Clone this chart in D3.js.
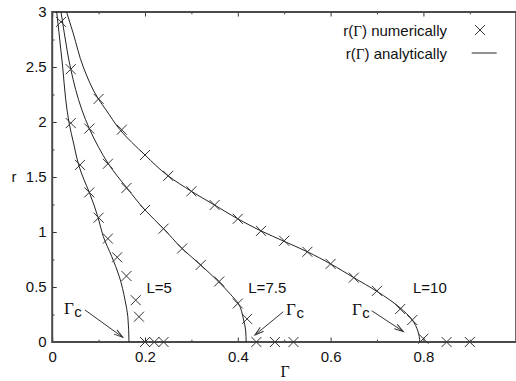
<!DOCTYPE html>
<html>
<head>
<meta charset="utf-8">
<script src="https://cdnjs.cloudflare.com/ajax/libs/d3/7.8.5/d3.min.js"></script>
<style>
  body { margin: 0; background: #fff; }
  svg text { font-family: "Liberation Sans", Arial, Helvetica, sans-serif; font-size: 15px; fill: #111; }
  svg .sym { font-family: "Liberation Serif", "DejaVu Serif", serif; }
</style>
</head>
<body>
<div id="chart"></div>
<script>
// numerical results, [Gamma, r]
var num5 = [[0.04, 1.99], [0.06, 1.61], [0.08, 1.36], [0.10, 1.13], [0.12, 0.94], [0.14, 0.77],
            [0.16, 0.60], [0.18, 0.38], [0.187, 0.23], [0.20, 0], [0.22, 0], [0.24, 0]];
var num75 = [[0.019, 2.91], [0.04, 2.48], [0.08, 1.94], [0.12, 1.62], [0.16, 1.40], [0.20, 1.20],
             [0.24, 1.03], [0.28, 0.85], [0.32, 0.70], [0.36, 0.55], [0.40, 0.35], [0.42, 0.21],
             [0.44, 0], [0.48, 0], [0.52, 0]];
var num10 = [[0.10, 2.21], [0.15, 1.93], [0.20, 1.70], [0.25, 1.51], [0.30, 1.37], [0.35, 1.245],
             [0.40, 1.12], [0.45, 1.01], [0.50, 0.92], [0.55, 0.82], [0.60, 0.71], [0.65, 0.585],
             [0.70, 0.465], [0.75, 0.30], [0.776, 0.20], [0.80, 0.03], [0.85, 0], [0.90, 0]];

// analytic curves, [Gamma, r]
var ana5 = [[0.0097, 3.0], [0.0147, 2.81], [0.0226, 2.5], [0.029, 2.21], [0.036, 2.0], [0.047, 1.79],
            [0.057, 1.61], [0.068, 1.48], [0.08, 1.36], [0.099, 1.13], [0.110, 0.96], [0.128, 0.78],
            [0.145, 0.59], [0.157, 0.38], [0.163, 0.23], [0.1655, 0]];
var ana75 = [[0.019, 3.0], [0.026, 2.81], [0.040, 2.48], [0.064, 2.11], [0.08, 1.94], [0.10, 1.77],
             [0.121, 1.62], [0.161, 1.40], [0.20, 1.20], [0.24, 1.03], [0.28, 0.85], [0.32, 0.70],
             [0.358, 0.55], [0.385, 0.43], [0.401, 0.35], [0.412, 0.21], [0.417, 0.1], [0.418, 0]];
var ana10 = [[0.031, 3.0], [0.045, 2.81], [0.067, 2.5], [0.0995, 2.21], [0.116, 2.11], [0.146, 1.93],
             [0.20, 1.70], [0.25, 1.51], [0.30, 1.37], [0.35, 1.245], [0.40, 1.12], [0.45, 1.01],
             [0.50, 0.915], [0.55, 0.82], [0.60, 0.71], [0.65, 0.585], [0.70, 0.46], [0.75, 0.31],
             [0.776, 0.20], [0.788, 0.10], [0.7925, 0]];

var xTicks = [0, 0.2, 0.4, 0.6, 0.8];
var xMinor = [0.1, 0.3, 0.5, 0.7, 0.9];
var yTicks = [0, 0.5, 1, 1.5, 2, 2.5, 3];
var yMinor = [0.25, 0.75, 1.25, 1.75, 2.25, 2.75];

var curveLabels = ["L=5", "L=7.5", "L=10"];
var legendLabels = ["numerically", "analytically"];

// annotation anchors in data units: L labels, Gamma_c labels and arrows
var lLabelAt = [[0.203, 0.445], [0.4226, 0.445], [0.7776, 0.445]];
var gcLabelAt = [[0.0254, 0.255], [0.504, 0.245], [0.646, 0.245]];
var gcArrows = [[[0.0707, 0.291], [0.152, 0.043]],
                [[0.498, 0.275], [0.437, 0.064]],
                [[0.6886, 0.2845], [0.7567, 0.0955]]];

var width = 516, height = 381,
    pLeft = 52.2, pRight = 516.2, pTop = 12, pBottom = 342;

var x = d3.scaleLinear().domain([0, 1]).range([pLeft, pRight]);
var y = d3.scaleLinear().domain([0, 3]).range([pBottom, pTop]);

var svg = d3.select("#chart").append("svg")
    .attr("width", width)
    .attr("height", height);

var defs = svg.append("defs");
defs.append("clipPath").attr("id", "plotclip")
  .append("rect").attr("x", pLeft).attr("y", pTop)
    .attr("width", pRight - pLeft).attr("height", pBottom - pTop);

// arrow head, open V like gnuplot
defs.append("marker")
    .attr("id", "head")
    .attr("viewBox", "-10 -5 12 10")
    .attr("refX", 0).attr("refY", 0)
    .attr("markerWidth", 12).attr("markerHeight", 10)
    .attr("markerUnits", "userSpaceOnUse")
    .attr("orient", "auto")
  .append("path")
    .attr("d", "M-9,-2.6L0,0L-9,2.6")
    .attr("fill", "none")
    .attr("stroke", "#333")
    .attr("stroke-width", 1);

var fmt = function(d) { return String(d); };

// major + minor ticks on all sides, pointing inward
function addAxis(axis, tx, ty, labels) {
    var g = svg.append("g").attr("transform", "translate(" + tx + "," + ty + ")").call(axis);
    g.select(".domain").remove();
    g.selectAll(".tick line").attr("stroke", "#333");
    if (!labels) g.selectAll(".tick text").remove();
    return g;
}

addAxis(d3.axisBottom(x).tickValues(xTicks).tickSize(-4.5).tickPadding(9).tickFormat(fmt), 0, pBottom, true);
addAxis(d3.axisBottom(x).tickValues(xMinor).tickSize(-2.3), 0, pBottom, false);
addAxis(d3.axisTop(x).tickValues(xTicks.concat([1])).tickSize(-4.5), 0, pTop, false);
addAxis(d3.axisTop(x).tickValues(xMinor).tickSize(-2.3), 0, pTop, false);
addAxis(d3.axisLeft(y).tickValues(yTicks).tickSize(-4.5).tickPadding(5.5).tickFormat(fmt), pLeft, 0, true);
addAxis(d3.axisLeft(y).tickValues(yMinor).tickSize(-2.3), pLeft, 0, false);

svg.selectAll(".tick text").style("font-size", "15px").attr("fill", "#111");

// frame
svg.append("rect")
    .attr("x", pLeft).attr("y", pTop)
    .attr("width", pRight - pLeft).attr("height", pBottom - pTop)
    .attr("fill", "none")
    .attr("stroke", "#4a4a4a")
    .attr("stroke-width", 2);

var plot = svg.append("g").attr("clip-path", "url(#plotclip)");

var line = d3.line()
    .x(function(d) { return x(d[0]); })
    .y(function(d) { return y(d[1]); })
    .curve(d3.curveMonotoneY);

[ana5, ana75, ana10].forEach(function(s) {
    plot.append("path")
        .attr("d", line(s))
        .attr("fill", "none")
        .attr("stroke", "#222")
        .attr("stroke-width", 1);
});

var crossPath = "M-5,-5L5,5M-5,5L5,-5";

svg.append("g").selectAll("path.cross")
    .data(num5.concat(num75, num10))
    .enter().append("path")
    .attr("class", "cross")
    .attr("transform", function(d) { return "translate(" + x(d[0]) + "," + y(d[1]) + ")"; })
    .attr("d", crossPath)
    .attr("fill", "none")
    .attr("stroke", "#333")
    .attr("stroke-width", 1);

// curve names
svg.selectAll("text.lname")
    .data(curveLabels)
    .enter().append("text")
    .attr("class", "lname")
    .attr("x", function(d, i) { return x(lLabelAt[i][0]); })
    .attr("y", function(d, i) { return y(lLabelAt[i][1]); })
    .text(function(d) { return d; });

// Gamma_c labels
gcLabelAt.forEach(function(p) {
    var t = svg.append("text").attr("x", x(p[0])).attr("y", y(p[1]));
    t.append("tspan").attr("class", "sym").style("font-size", "17px").text("Γ");
    t.append("tspan").attr("dy", 3).attr("dx", 0.5).text("c");
});

gcArrows.forEach(function(a) {
    svg.append("line")
        .attr("x1", x(a[0][0])).attr("y1", y(a[0][1]))
        .attr("x2", x(a[1][0])).attr("y2", y(a[1][1]))
        .attr("stroke", "#333")
        .attr("stroke-width", 1)
        .attr("marker-end", "url(#head)");
});

// legend
var legend = svg.append("g");
legendLabels.forEach(function(name, i) {
    var t = legend.append("text")
        .attr("x", 447).attr("y", 35.5 + i * 23)
        .attr("text-anchor", "end");
    t.append("tspan").text("r(");
    t.append("tspan").attr("class", "sym").text("Γ");
    t.append("tspan").text(") " + name);
});
legend.append("path")
    .attr("transform", "translate(480,30)")
    .attr("d", crossPath)
    .attr("fill", "none").attr("stroke", "#333").attr("stroke-width", 1);
legend.append("line")
    .attr("x1", 471.7).attr("x2", 496.7).attr("y1", 53).attr("y2", 53)
    .attr("stroke", "#222").attr("stroke-width", 1);

// axis titles
svg.append("text")
    .attr("x", 14).attr("y", (pTop + pBottom) / 2 + 5)
    .attr("text-anchor", "middle")
    .text("r");
svg.append("text")
    .attr("class", "sym")
    .attr("x", (pLeft + pRight) / 2 + 1).attr("y", 377)
    .attr("text-anchor", "middle")
    .style("font-size", "16px")
    .text("Γ");
</script>
</body>
</html>
